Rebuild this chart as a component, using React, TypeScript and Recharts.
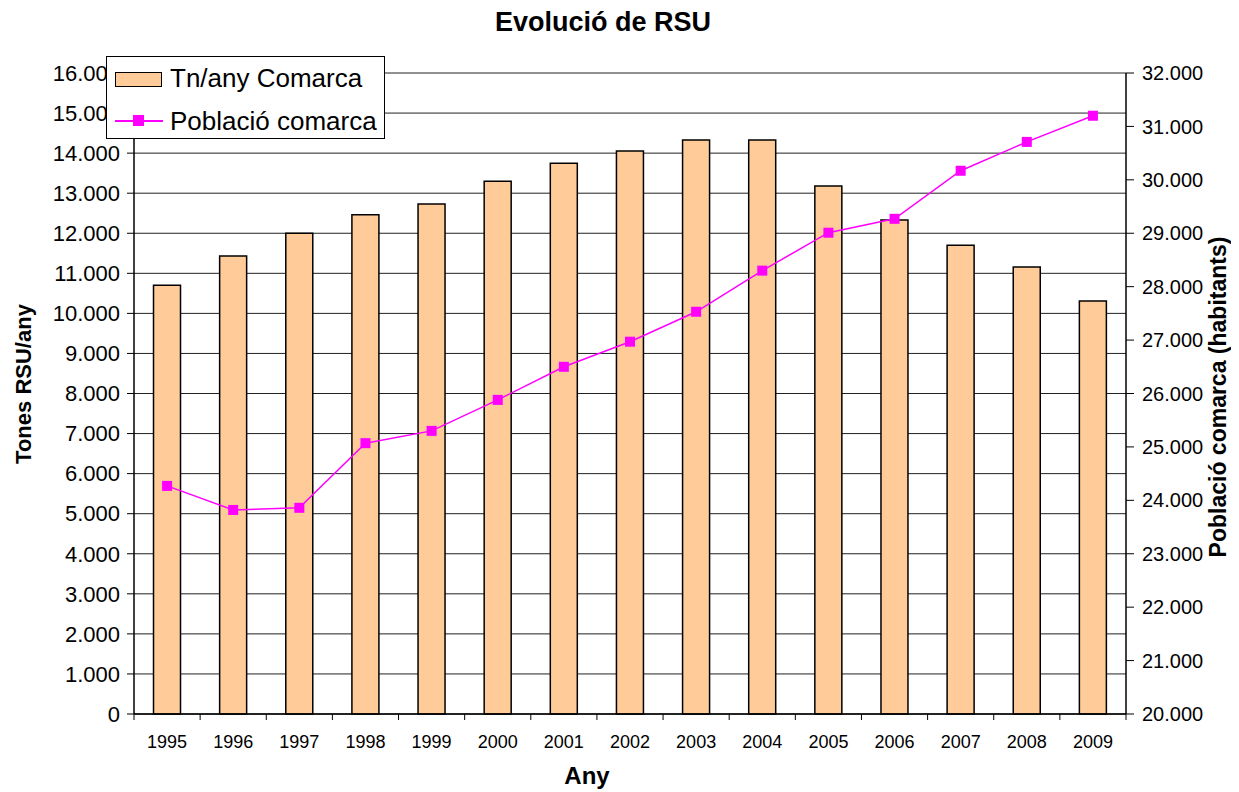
import { ComposedChart, Bar, Line, XAxis, YAxis, CartesianGrid } from 'recharts';

const years = ['1995', '1996', '1997', '1998', '1999', '2000', '2001', '2002', '2003', '2004', '2005', '2006', '2007', '2008', '2009'];
const tonesRSU = [10700, 11430, 12000, 12460, 12730, 13300, 13750, 14050, 14330, 14330, 13180, 12330, 11700, 11160, 10310];
const poblacio = [24270, 23820, 23860, 25070, 25300, 25880, 26500, 26970, 27530, 28300, 29010, 29270, 30170, 30710, 31200];
const leftTicks = [0, 1000, 2000, 3000, 4000, 5000, 6000, 7000, 8000, 9000, 10000, 11000, 12000, 13000, 14000, 15000, 16000];
const rightTicks = [20000, 21000, 22000, 23000, 24000, 25000, 26000, 27000, 28000, 29000, 30000, 31000, 32000];

const data = years.map((any, i) => ({ any, tones: tonesRSU[i], poblacio: poblacio[i] }));

const FONT = '"Liberation Sans", Arial, sans-serif';
const fmt = (v: number) => v.toLocaleString('de-DE');

const W = 1231;
const H = 784;
const HALF = (1118 - 126) / years.length / 2;

const YearTick = (props: any) => {
  const { x, y, payload, index } = props;
  return (
    <g>
      <line x1={x - HALF} x2={x - HALF} y1={y - 8} y2={y - 2} stroke="#000" />
      {index === years.length - 1 && <line x1={x + HALF} x2={x + HALF} y1={y - 8} y2={y - 2} stroke="#000" />}
      <text x={x} y={y + 26} textAnchor="middle" fontSize={18} fontFamily={FONT} fill="#000">
        {payload.value}
      </text>
    </g>
  );
};

const SquareDot = (props: any) => {
  const { cx, cy } = props;
  return <rect x={cx - 5} y={cy - 5} width={10} height={10} fill="#FF00FF" />;
};

export default function App() {
  return (
    <div style={{ position: 'relative', width: W, height: H, fontFamily: FONT, color: '#000' }}>
      <div style={{ position: 'absolute', left: 595, top: -1, transform: 'translateX(-50%)', fontSize: 27, fontWeight: 'bold', whiteSpace: 'nowrap' }}>
        Evolució de RSU
      </div>
      <ComposedChart width={W} height={H} data={data} margin={{ top: 65, right: 0, bottom: 0, left: 0 }} barCategoryGap="29.5%">
        <CartesianGrid yAxisId="left" vertical={false} stroke="#222" strokeOpacity={1} />
        <XAxis dataKey="any" height={78} axisLine={{ stroke: '#000', strokeWidth: 1.5 }} tickLine={false} tick={<YearTick />} interval={0} />
        <YAxis
          yAxisId="left"
          width={126}
          domain={[0, 16000]}
          ticks={leftTicks}
          tickFormatter={fmt}
          axisLine={{ stroke: '#000', strokeWidth: 1.5 }}
          tickLine={{ stroke: '#000' }}
          tickSize={7}
          tick={{ fill: '#000', fontSize: 22, fontFamily: FONT, dx: -5 }}
        />
        <YAxis
          yAxisId="right"
          orientation="right"
          width={113}
          domain={[20000, 32000]}
          ticks={rightTicks}
          tickFormatter={fmt}
          axisLine={{ stroke: '#000', strokeWidth: 1.5 }}
          tickLine={{ stroke: '#000' }}
          tickSize={8}
          tick={{ fill: '#000', fontSize: 20, fontFamily: FONT, dx: 6 }}
        />
        <Bar yAxisId="left" dataKey="tones" fill="#FFCC99" stroke="#000" strokeWidth={1.5} isAnimationActive={false} />
        <Line yAxisId="right" dataKey="poblacio" stroke="#FF00FF" strokeWidth={1.5} dot={<SquareDot />} activeDot={false} isAnimationActive={false} />
      </ComposedChart>
      <div style={{ position: 'absolute', left: 16, top: 376, transform: 'translate(-50%, -50%) rotate(-90deg)', fontSize: 22, fontWeight: 'bold', whiteSpace: 'nowrap' }}>
        Tones RSU/any
      </div>
      <div style={{ position: 'absolute', left: 1210, top: 389, transform: 'translate(-50%, -50%) rotate(-90deg)', fontSize: 23, fontWeight: 'bold', whiteSpace: 'nowrap' }}>
        Població comarca (habitants)
      </div>
      <div style={{ position: 'absolute', left: 579, top: 768, transform: 'translate(-50%, -50%)', fontSize: 24, fontWeight: 'bold' }}>
        Any
      </div>
      <div style={{ position: 'absolute', left: 98, top: 48, width: 279, height: 83, background: '#fff', border: '1px solid #000', boxSizing: 'border-box', fontSize: 26 }}>
        <div style={{ position: 'absolute', left: 8, top: 15, width: 47, height: 15, background: '#FFCC99', border: '1.5px solid #000', boxSizing: 'border-box' }} />
        <div style={{ position: 'absolute', left: 63, top: 6, whiteSpace: 'nowrap' }}>Tn/any Comarca</div>
        <div style={{ position: 'absolute', left: 8, top: 63, width: 48, height: 2, background: '#FF00FF' }} />
        <div style={{ position: 'absolute', left: 26, top: 58, width: 11, height: 11, background: '#FF00FF' }} />
        <div style={{ position: 'absolute', left: 63, top: 49, whiteSpace: 'nowrap' }}>Població comarca</div>
      </div>
    </div>
  );
}
